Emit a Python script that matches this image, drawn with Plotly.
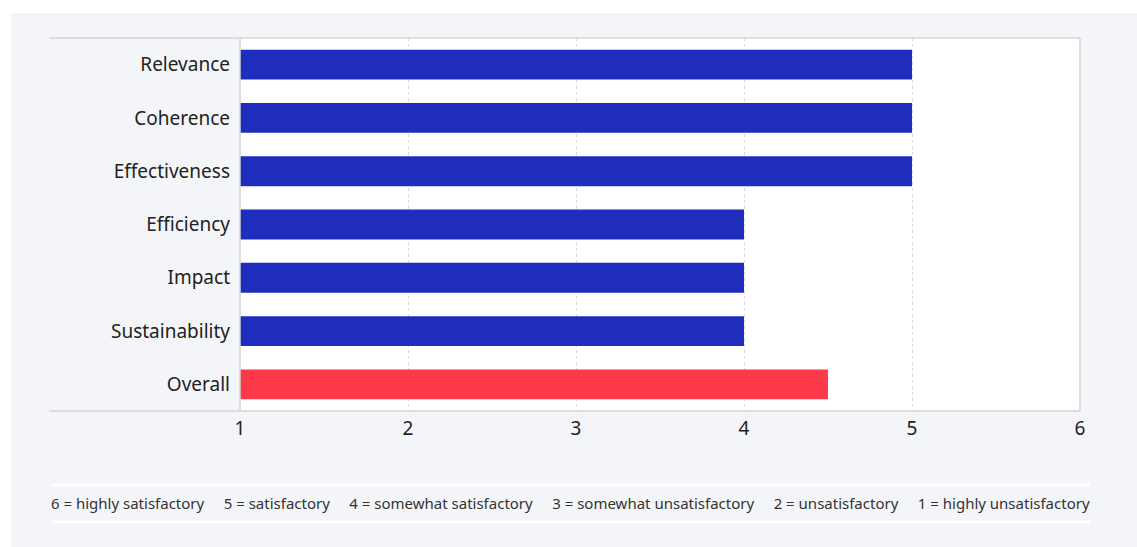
import plotly.graph_objects as go

# Evaluation criteria and their ratings (6-point scale)
criteria = ["Relevance", "Coherence", "Effectiveness", "Efficiency",
            "Impact", "Sustainability", "Overall"]
ratings = [5, 5, 5, 4, 4, 4, 4.5]
bar_colors = ["#1f2dbd"] * 6 + ["#fe3a4a"]
x_ticks = [1, 2, 3, 4, 5, 6]
scale_legend = ["6 = highly satisfactory", "5 = satisfactory",
                "4 = somewhat satisfactory", "3 = somewhat unsatisfactory",
                "2 = unsatisfactory", "1 = highly unsatisfactory"]

W, H = 1137, 547
L, R, T, B = 240, 57, 38, 136
PW, PH = W - L - R, H - T - B


def px_x(px):
    return (px - L) / PW


def px_y(py):
    return (H - B - py) / PH


fig = go.Figure(go.Bar(
    x=ratings, y=criteria, orientation="h",
    marker=dict(color=bar_colors, line=dict(width=0)),
    hoverinfo="x+y",
))

grid = "#d4d4d4"
shapes = [
    # white page strips around the grey panel
    dict(type="rect", xref="paper", yref="paper", x0=px_x(0), x1=px_x(W),
         y0=px_y(13), y1=px_y(0), fillcolor="white", line_width=0, layer="below"),
    dict(type="rect", xref="paper", yref="paper", x0=px_x(0), x1=px_x(11),
         y0=px_y(H), y1=px_y(0), fillcolor="white", line_width=0, layer="below"),
    # frame lines
    dict(type="line", xref="paper", yref="paper", x0=px_x(49), x1=1, y0=1, y1=1,
         line=dict(color=grid, width=1.5)),
    dict(type="line", xref="paper", yref="paper", x0=px_x(49), x1=1, y0=0, y1=0,
         line=dict(color=grid, width=1.5)),
    dict(type="line", xref="paper", yref="paper", x0=1, x1=1, y0=0, y1=1,
         line=dict(color=grid, width=1.5)),
    dict(type="line", xref="paper", yref="paper", x0=0, x1=0, y0=0, y1=1,
         line=dict(color=grid, width=1.5)),
    # white rules framing the scale legend
    dict(type="line", xref="paper", yref="paper", x0=px_x(52), x1=px_x(1090),
         y0=px_y(485), y1=px_y(485), line=dict(color="white", width=3)),
    dict(type="line", xref="paper", yref="paper", x0=px_x(52), x1=px_x(1090),
         y0=px_y(522), y1=px_y(522), line=dict(color="white", width=3)),
]

gap = "\u00a0" * 5
fig.add_annotation(
    text=gap.join(scale_legend), xref="paper", yref="paper",
    x=px_x(570), y=px_y(503), xanchor="center", yanchor="middle",
    showarrow=False, font=dict(size=15, color="#333333"),
)

fig.update_layout(
    width=W, height=H,
    margin=dict(l=L, r=R, t=T, b=B, pad=0),
    paper_bgcolor="#f4f5f9", plot_bgcolor="white",
    font=dict(family="Noto Sans, Open Sans, sans-serif", color="#222222", size=19),
    showlegend=False,
    bargap=0.44,
    shapes=shapes,
    xaxis=dict(range=[1, 6], tickvals=x_ticks, showgrid=True, gridcolor="#dcdcdc",
               griddash="dot", gridwidth=1, zeroline=False, showline=False,
               ticks="", ticklabelstandoff=4, tickfont=dict(size=19), fixedrange=True),
    yaxis=dict(categoryorder="array", categoryarray=criteria[::-1],
               showgrid=False, zeroline=False, showline=False, ticks="",
               ticklabelstandoff=9, tickfont=dict(size=19), fixedrange=True),
)

fig.write_html("out.html", config={"displayModeBar": False})
